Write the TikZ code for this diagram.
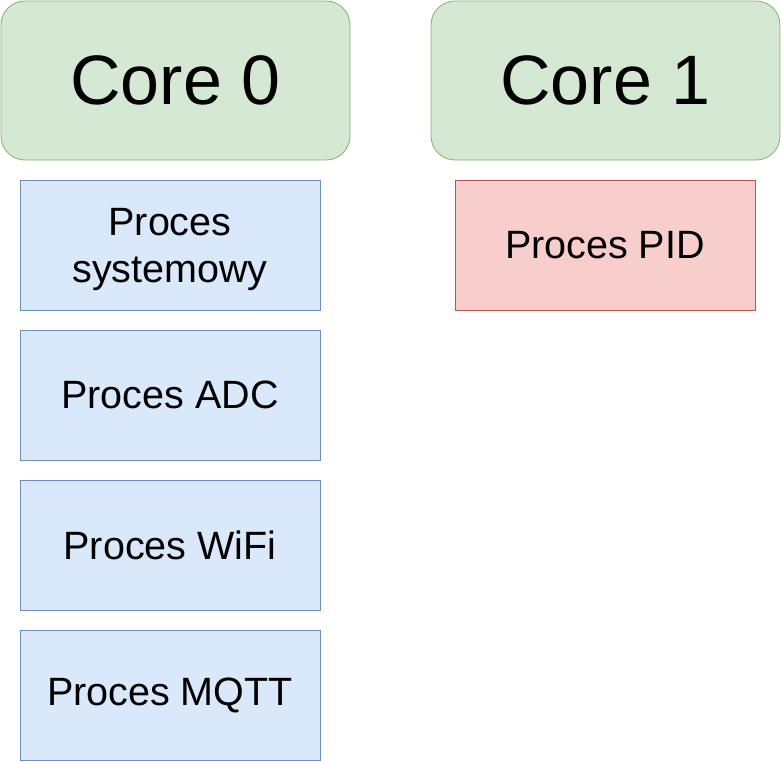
\documentclass[tikz,border=0pt]{standalone}
\usepackage{fontspec}
\setmainfont{Liberation Sans}
\definecolor{gfill}{HTML}{D5E8D4}
\definecolor{gdraw}{HTML}{82B366}
\definecolor{bfill}{HTML}{DAE8FC}
\definecolor{bdraw}{HTML}{6C8EBF}
\definecolor{rfill}{HTML}{F8CECC}
\definecolor{rdraw}{HTML}{B85450}
\begin{document}
\begin{tikzpicture}[x=1pt,y=-1pt,
  core/.style={draw=gdraw,fill=gfill,rounded corners=24pt,minimum width=349pt,minimum height=159pt,inner sep=0pt,font=\fontsize{70}{84}\selectfont,line width=0.8pt},
  proc/.style={draw=bdraw,fill=bfill,minimum width=300pt,minimum height=130pt,inner sep=0pt,font=\fontsize{39.5}{47}\selectfont,line width=0.8pt},
  pid/.style={proc,draw=rdraw,fill=rfill}]
\useasboundingbox (0,0) rectangle (781,761);
\node[core] (c0) at (175.5,80.5) {Core 0};
\node[core] (c1) at (605.5,80.5) {Core 1};
\node[proc] (p1) at (170,245) {\raisebox{-5pt}[\height][\depth]{\begin{tabular}{@{}c@{}}Proces\\systemowy\end{tabular}}};
\node[proc] (p2) at (170,395) {Proces ADC};
\node[proc] (p3) at (170,545) {Proces WiFi};
\node[proc] (p4) at (170,695) {Proces MQTT};
\node[pid] (p5) at (605,245) {Proces PID};
\end{tikzpicture}
\end{document}
